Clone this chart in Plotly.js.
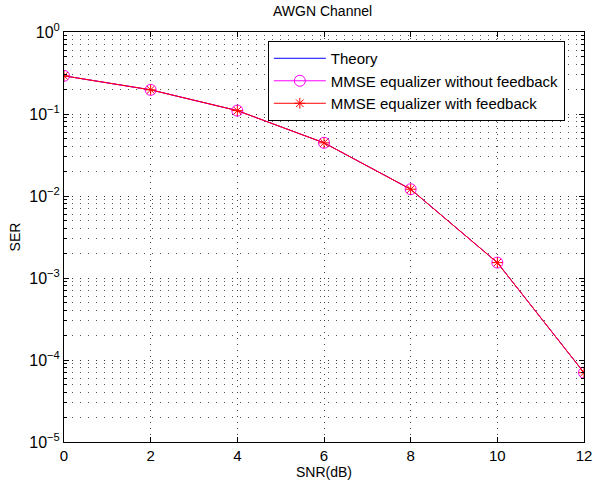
<!DOCTYPE html>
<html>
<head>
<meta charset="utf-8">
<script src="https://cdn.plot.ly/plotly-3.0.1.min.js"></script>
<style>html,body{margin:0;padding:0;background:#fff}#chart{width:593px;height:486px}</style>
</head>
<body>
<div id="chart"></div>
<script>
const snr = [0, 2, 4, 6, 8, 10, 12];
const serTheory = [0.292, 0.197, 0.110, 0.0445, 0.0121, 0.00154, 0.000070];
const serNoFeedback = [0.292, 0.197, 0.110, 0.0445, 0.0121, 0.00154, 0.000070];
const serFeedback = [0.292, 0.197, 0.110, 0.0445, 0.0121, 0.00154, 0.000070];
const xTicks = [0, 2, 4, 6, 8, 10, 12];
const yTickVals = [1, 0.1, 0.01, 0.001, 0.0001, 0.00001];
const yTickText = ['10<sup>0</sup>', '10<sup>−1</sup>', '10<sup>−2</sup>', '10<sup>−3</sup>', '10<sup>−4</sup>', '10<sup>−5</sup>'];
const seriesNames = ['Theory', 'MMSE equalizer without feedback', 'MMSE equalizer with feedback'];

const traces = [
  {x: snr, y: serTheory, name: seriesNames[0], mode: 'lines',
   line: {color: '#0000ff', width: 1}},
  {x: snr, y: serNoFeedback, name: seriesNames[1], mode: 'lines+markers',
   line: {color: '#ff00ff', width: 1},
   marker: {symbol: 'circle-open', size: 11, color: '#ff00ff', line: {width: 1, color: '#ff00ff'}}},
  {x: snr, y: serFeedback, name: seriesNames[2], mode: 'lines+markers',
   line: {color: '#ff0000', width: 1},
   marker: {symbol: 'asterisk-open', size: 9, color: '#ff0000', line: {width: 1, color: '#ff0000'}}}
];

const font = {family: 'Liberation Sans, Arial, sans-serif', color: '#000'};
const layout = {
  width: 593, height: 486,
  margin: {l: 64, r: 9, t: 32, b: 44},
  paper_bgcolor: '#fff', plot_bgcolor: '#fff',
  font: Object.assign({size: 14}, font),
  showlegend: true,
  title: {text: 'AWGN Channel', font: Object.assign({size: 14}, font), x: 0.544, xanchor: 'center', y: 0.988, yanchor: 'top'},
  xaxis: {
    range: [0, 12], tickvals: xTicks, ticktext: xTicks.map(String),
    showline: true, linecolor: '#000', linewidth: 1, mirror: 'ticks',
    ticks: 'inside', ticklen: 5, tickcolor: '#000',
    showgrid: true, gridcolor: '#444', griddash: '1px,5px', gridwidth: 1,
    zeroline: false,
    tickfont: Object.assign({size: 15}, font),
    title: {text: 'SNR(dB)', font: Object.assign({size: 14}, font), standoff: 4}
  },
  yaxis: {
    type: 'log', range: [-5, 0],
    tickvals: yTickVals, ticktext: yTickText,
    showline: true, linecolor: '#000', linewidth: 1, mirror: 'ticks',
    ticks: 'inside', ticklen: 5, tickcolor: '#000',
    showgrid: true, gridcolor: '#333', griddash: '1px,7px', gridwidth: 1,
    zeroline: false,
    tickfont: Object.assign({size: 16}, font),
    minor: {dtick: 'D1', ticks: 'inside', ticklen: 3, tickcolor: '#000', showgrid: true, gridcolor: '#555', griddash: '1px,7px', gridwidth: 1},
    title: {text: 'SER', font: Object.assign({size: 14}, font), standoff: 5}
  },
  legend: {
    x: 0.392, y: 0.978, xanchor: 'left', yanchor: 'top',
    bgcolor: '#fff', bordercolor: '#000', borderwidth: 1,
    font: Object.assign({size: 15}, font),
    tracegroupgap: 0, itemwidth: 52
  }
};

Plotly.newPlot('chart', traces, layout, {displayModeBar: false, staticPlot: true});
</script>
</body>
</html>
